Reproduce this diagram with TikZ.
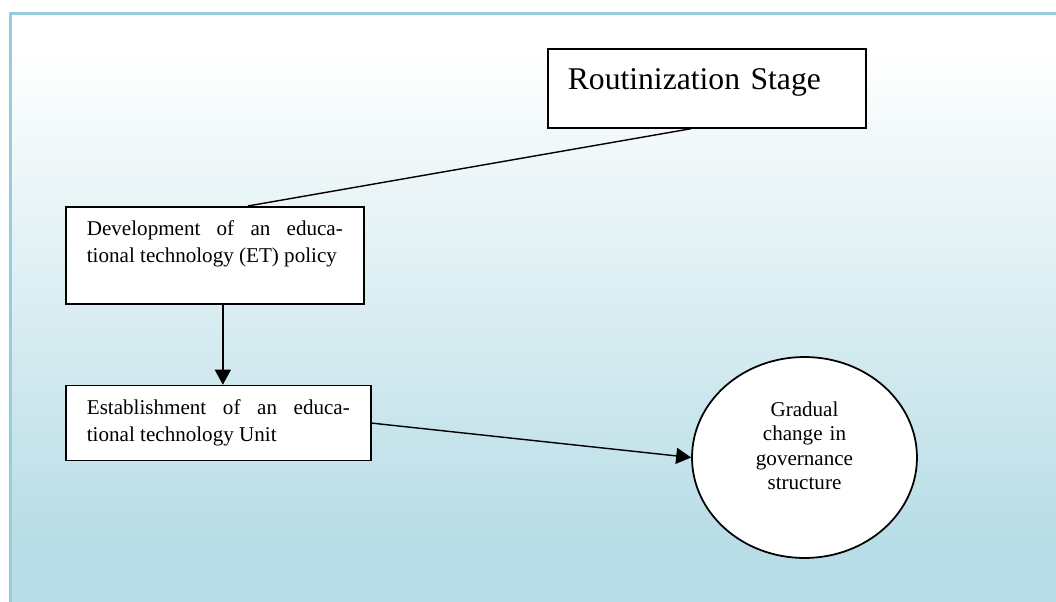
\documentclass[tikz,border=0pt]{standalone}
\usepackage{fontspec}
\setmainfont{Liberation Serif}
\usetikzlibrary{shapes.geometric, arrows.meta, positioning}
\definecolor{frameblue}{RGB}{150,205,222}
\definecolor{shadeblue}{RGB}{184,221,230}
\pgfdeclareverticalshading{panelshade}{100bp}{
  color(0bp)=(shadeblue); color(30bp)=(shadeblue);
  color(72bp)=(white); color(100bp)=(white)}
\tikzset{
  stagebox/.style={
    draw, fill=white, rectangle, line width=1pt, anchor=north west,
    font=\fontsize{18}{21}\selectfont, align=left, text width=55.6mm,
    inner xsep=4mm, inner ysep=0pt, text height=8.2mm, text depth=7.6mm
  },
  stepbox/.style={
    draw, fill=white, rectangle, line width=1pt,
    font=\fontsize{12}{15.2}\selectfont, align=justify,
    inner xsep=4.2mm, inner ysep=0pt, text height=5.8mm
  },
  endcircle/.style={
    draw, fill=white, ellipse, line width=1pt,
    minimum width=45mm, minimum height=40.2mm, inner sep=0pt,
    font=\fontsize{12}{14}\selectfont, align=center, text width=30mm,
    text height=2.8mm, text depth=19.4mm
  },
  link/.style={
    line width=0.8pt
  },
  arrow/.style={
    line width=0.8pt, -{Triangle[length=3mm, width=3.2mm]}
  },
}

\begin{document}
\begin{tikzpicture}[x=0.02cm, y=-0.02cm]

  \useasboundingbox (0,0) rectangle (1056,602);

  %%% Shaded panel with its frame %%%
  \shade[shading=panelshade] (10.5,13.5) rectangle (1056,602);
  \draw[frameblue, line width=0.6mm] (10.5,602) -- (10.5,13.5) -- (1056,13.5);

  %%% STAGE box (top right) %%%
  \node[stagebox] (stage) at (547,48) {Routinization Stage};

  %%% STEP boxes (left) %%%
  \node[stepbox, anchor=north west, text width=51.2mm, text depth=13.6mm] (policy)
    at (65,206)
    {Development of an educa-\linebreak tional technology (ET) policy};

  \node[stepbox, below=16mm of policy.south west, anchor=north west,
        text width=52.6mm, text depth=9.2mm] (unit)
    {Establishment of an educa-\linebreak tional technology Unit};

  %%% OUTCOME ellipse (right) %%%
  \node[endcircle] (change) at (804.5,457.5)
    {Gradual\\change in\\governance\\structure};

  %%% Connectors %%%
  \draw[link] ([xshift=-3.2mm]stage.south) -- ([xshift=6.6mm]policy.north);
  \draw[arrow] ([xshift=1.6mm]policy.south) -- ([xshift=1.6mm]policy.south |- unit.north);
  \draw[arrow] (unit.east) -- (change.west);

\end{tikzpicture}
\end{document}
